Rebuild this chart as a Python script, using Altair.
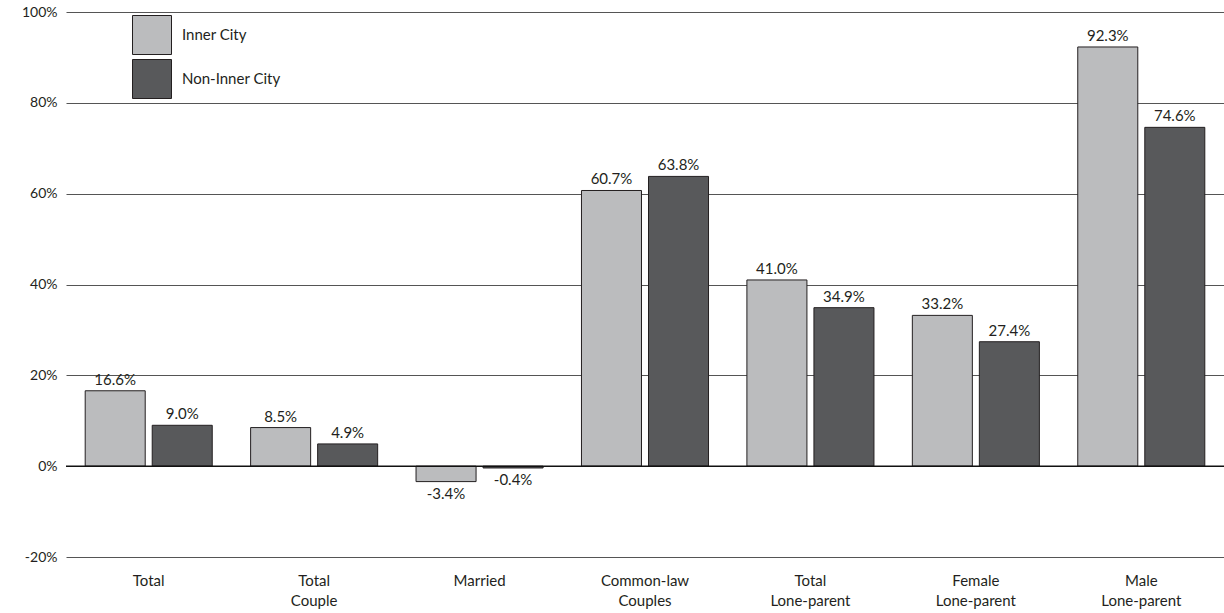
import altair as alt
import pandas as pd

categories = ["Total", "Total|Couple", "Married", "Common-law|Couples",
              "Total|Lone-parent", "Female|Lone-parent", "Male|Lone-parent"]
series = ["Inner City", "Non-Inner City"]
inner_city = [16.6, 8.5, -3.4, 60.7, 41.0, 33.2, 92.3]
non_inner_city = [9.0, 4.9, -0.4, 63.8, 34.9, 27.4, 74.6]
y_ticks = [-20, 0, 20, 40, 60, 80, 100]

rows = []
for c, a, b in zip(categories, inner_city, non_inner_city):
    rows.append({"category": c, "series": series[0], "value": a})
    rows.append({"category": c, "series": series[1], "value": b})
df = pd.DataFrame(rows)

FONT = "Lato"

x_enc = alt.X("category:N", sort=categories,
              scale=alt.Scale(paddingInner=0.232, paddingOuter=0.116),
              axis=alt.Axis(title=None, labelExpr="split(datum.label, '|')",
                            labelAngle=0, domain=False, ticks=False, grid=False,
                            labelFontSize=15, labelPadding=16,
                            labelColor="#231f20", labelFont=FONT,
                            labelLineHeight=20))
xoff_enc = alt.XOffset("series:N", sort=series,
                       scale=alt.Scale(paddingInner=0.1045, paddingOuter=0))
y_scale = alt.Scale(domain=[-20, 100], nice=False)
y_axis = alt.Axis(title=None, values=y_ticks,
                  labelExpr="datum.value + '%'",
                  grid=True, gridColor="#555555", gridWidth=1,
                  domain=False, ticks=False, labelPadding=9,
                  labelFontSize=14, labelColor="#231f20",
                  labelFont=FONT)

base = alt.Chart(df)

bars = base.mark_bar(stroke="#231f20", strokeWidth=1).encode(
    x=x_enc,
    xOffset=xoff_enc,
    y=alt.Y("value:Q", scale=y_scale, axis=y_axis),
    color=alt.Color("series:N", sort=series,
                    scale=alt.Scale(domain=series, range=["#bbbcbe", "#58595b"]),
                    legend=alt.Legend(title=None, orient="none",
                                      legendX=66, legendY=3,
                                      symbolType="square", symbolSize=1521,
                                      symbolStrokeColor="#231f20",
                                      symbolStrokeWidth=1,
                                      labelFontSize=15, labelFont=FONT,
                                      labelColor="#231f20",
                                      labelOffset=10, rowPadding=0)),
)

zero = alt.Chart(pd.DataFrame({"z": [0]})).mark_rule(
    color="#111111", strokeWidth=1.5).encode(
    y=alt.Y("z:Q", scale=y_scale, axis=y_axis))

lab = base.transform_calculate(
    label="replace(format(datum.value, '.1f'), '\u2212', '-') + '%'")

pos_text = lab.transform_filter("datum.value >= 0").mark_text(
    baseline="bottom", dy=-3, fontSize=15, font=FONT, color="#231f20").encode(
    x=x_enc, xOffset=xoff_enc,
    y=alt.Y("value:Q", scale=y_scale, axis=y_axis), text="label:N")

neg_text = lab.transform_filter("datum.value < 0").mark_text(
    baseline="top", dy=5, fontSize=15, font=FONT, color="#231f20").encode(
    x=x_enc, xOffset=xoff_enc,
    y=alt.Y("value:Q", scale=y_scale, axis=y_axis), text="label:N")

chart = alt.layer(bars, zero, pos_text, neg_text).properties(
    width=1158, height=545,
    background="white",
    autosize=alt.AutoSizeParams(type="none"),
    padding={"left": 66, "top": 12, "right": 0, "bottom": 56},
).configure_view(
    stroke="transparent", strokeWidth=0, strokeOpacity=0
).configure_axis(domain=False).configure_axisX(grid=False, domain=False
).configure_axisY(domain=False)

chart.save("out.html", embed_options={"renderer": "svg", "actions": False})
